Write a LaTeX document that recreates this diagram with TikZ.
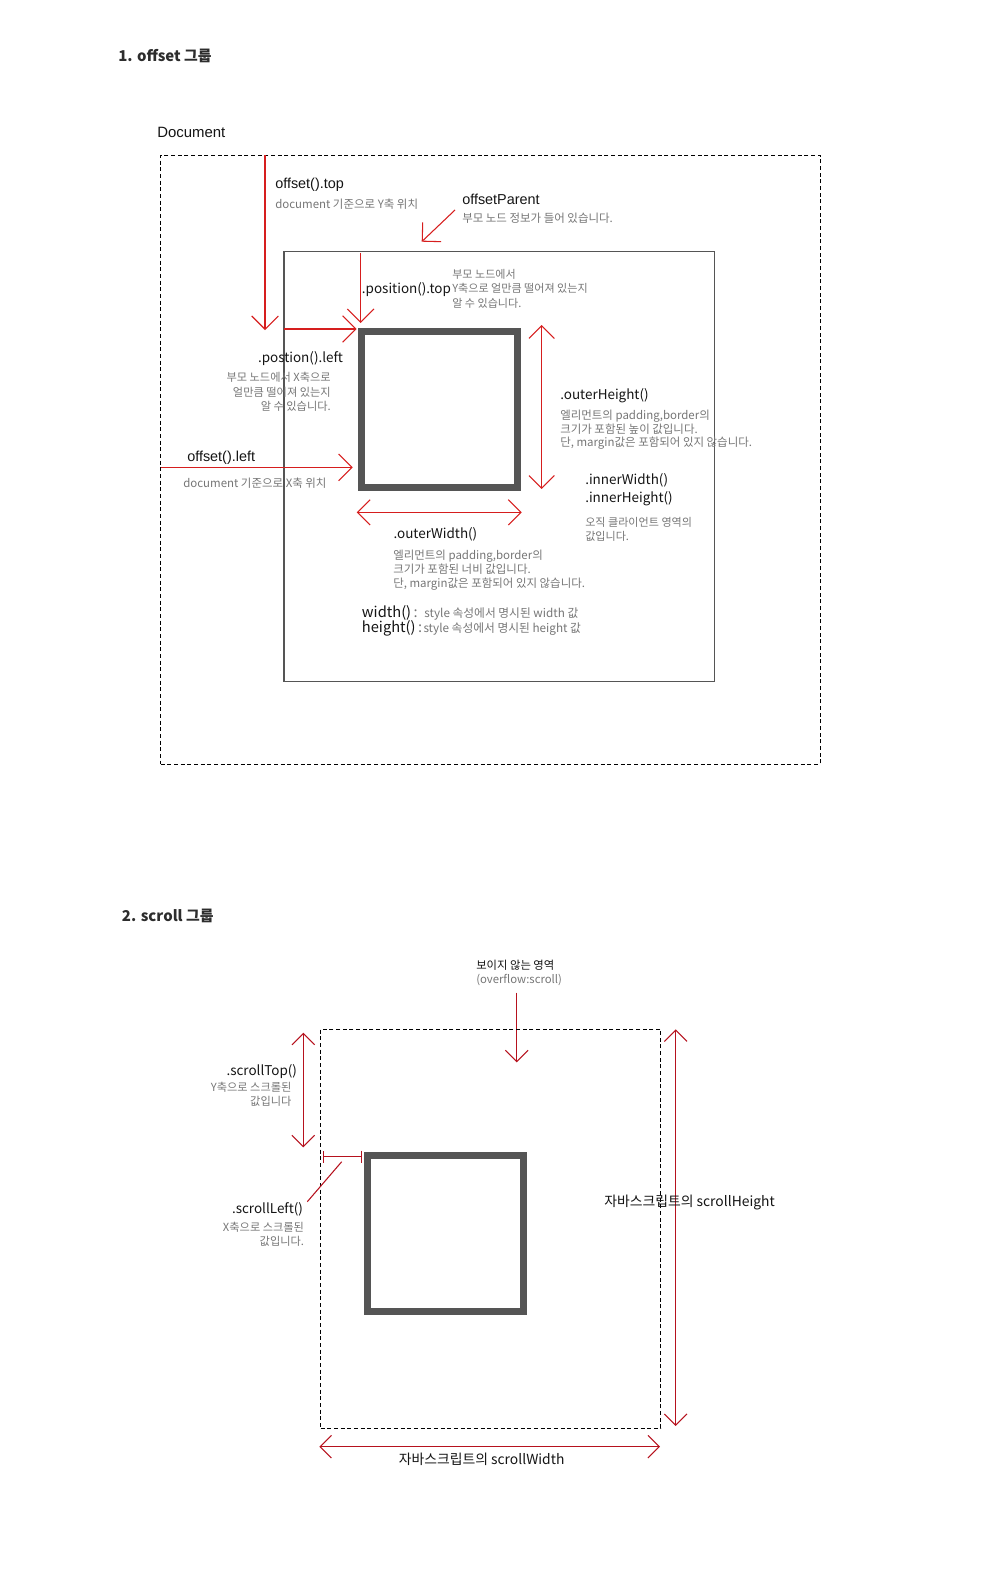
\documentclass[tikz,border=0pt]{standalone}
\usepackage{fontspec}
\setmainfont{Noto Sans CJK KR}
\newfontfamily\arialfont{Liberation Sans}
\usetikzlibrary{arrows.meta,fit}
\definecolor{redA}{RGB}{214,30,30}
\definecolor{redB}{RGB}{182,18,30}
\definecolor{ink}{RGB}{20,20,20}
\definecolor{notegray}{RGB}{118,118,118}
\definecolor{elemgray}{RGB}{85,85,85}
\definecolor{titlegray}{RGB}{45,45,45}
\newcommand\leftlines[1]{\vtop{\halign{##\hfil\cr#1\crcr}}}
\newcommand\rightlines[1]{\vtop{\halign{\hfil##\cr#1\crcr}}}
\tikzset{
  lbl/.style={inner sep=0pt, text=ink, font=\fontsize{10.1}{12}\selectfont},
  albl/.style={inner sep=0pt, text=ink, font=\arialfont\fontsize{10.8}{13}\selectfont},
  note/.style={inner sep=0pt, text=notegray, font=\fontsize{8.6}{10.5}\selectfont},
  ttl/.style={inner sep=0pt, text=titlegray, font=\bfseries\fontsize{11.2}{14}\selectfont},
  docbox/.style={draw=black, line width=0.75pt, dash pattern=on 3pt off 2pt, inner sep=0pt},
  parentbox/.style={draw=elemgray, line width=0.9pt, inner sep=0pt},
  elembox/.style={draw=elemgray, line width=5.25pt, inner sep=0pt},
  ra/.style={draw=redA, line width=0.8pt, -{Straight Barb[length=10pt,width=20pt]}},
  rab/.style={draw=redA, line width=0.8pt, {Straight Barb[length=9.5pt,width=19pt]}-{Straight Barb[length=9.5pt,width=19pt]}},
  rb/.style={draw=redB, line width=0.8pt, -{Straight Barb[length=8.5pt,width=17pt]}},
  rbb/.style={draw=redB, line width=0.8pt, {Straight Barb[length=8.5pt,width=17pt]}-{Straight Barb[length=8.5pt,width=17pt]}},
  rline/.style={draw=redB, line width=0.8pt},
}
\begin{document}
\begin{tikzpicture}[x=0.75pt,y=-0.75pt]
\useasboundingbox (0,0) rectangle (1000,1592);
% ---------- section 1 ----------
\node[ttl, anchor=base west] (t1) at (118,61) {1. offset 그룹};
\node[albl, anchor=base west, font=\arialfont\fontsize{11.2}{13}\selectfont] (doclbl) at (157,137) {Document};
\coordinate (docA) at (160.7,155);
\coordinate (docB) at (820,764);
\node[docbox, fit=(docA)(docB)] (doc) {};
\coordinate (parA) at (284,251.7);
\coordinate (parB) at (714.3,681.3);
\node[parentbox, fit=(parA)(parB)] (parent) {};
\coordinate (elA) at (361.5,331.5);
\coordinate (elB) at (517.5,487.5);
\node[elembox, fit=(elA)(elB)] (elem) {};

% offset().top
\coordinate (otS) at (265,155);
\coordinate (otE) at (265,330);
\draw[ra] (otS) -- (otE);
\node[albl, anchor=base west] (otlbl) at (275,188) {offset().top};
\node[note, anchor=base west] (otnote) at (275,208) {document 기준으로 Y축 위치};

% offsetParent
\coordinate (opS) at (455,210);
\coordinate (opE) at (421.7,241.7);
\draw[ra] (opS) -- (opE);
\node[albl, anchor=base west] (oplbl) at (462,204) {offsetParent};
\node[note, anchor=base west] (opnote) at (462,222) {부모 노드 정보가 들어 있습니다.};

% position().top
\coordinate (ptS) at (360.7,252.5);
\coordinate (ptE) at (360.7,323);
\draw[ra] (ptS) -- (ptE);
\node[lbl, anchor=base west] (ptlbl) at (361.7,293) {.position().top};
\node[note, anchor=base west, font=\fontsize{8.3}{11.2}\selectfont] (ptnote) at (452,278) {\leftlines{부모 노드에서\cr Y축으로 얼만큼 떨어져 있는지\cr 알 수 있습니다.}};

% position().left
\coordinate (plS) at (284,329);
\coordinate (plE) at (356.7,329);
\draw[ra] (plS) -- (plE);
\node[lbl, anchor=base east] (pllbl) at (343.3,362) {.postion().left};
\node[note, anchor=base east, font=\fontsize{8.4}{10.9}\selectfont] (plnote) at (331,381.7) {\rightlines{부모 노드에서 X축으로\cr 얼만큼 떨어져 있는지\cr 알 수 있습니다.}};

% offset().left
\coordinate (olS) at (160.7,467.3);
\coordinate (olE) at (352.7,467.3);
\draw[ra] (olS) -- (olE);
\node[albl, anchor=base west] (ollbl) at (187,461) {offset().left};
\node[note, anchor=base west] (olnote) at (183,487) {document 기준으로 X축 위치};

% outerHeight
\coordinate (ohS) at (541.7,325);
\coordinate (ohE) at (541.7,489);
\draw[rab] (ohS) -- (ohE);
\node[lbl, anchor=base west] (ohlbl) at (560,399) {.outerHeight()};
\node[note, anchor=base west, font=\fontsize{8.6}{10.3}\selectfont] (ohnote) at (560,419.3) {\leftlines{엘리먼트의 padding,border의\cr 크기가 포함된 높이 값입니다.\cr 단, margin값은 포함되어 있지 않습니다.}};

% inner
\node[lbl, anchor=base west, font=\fontsize{10.1}{13.5}\selectfont] (inlbl) at (585,484) {\leftlines{.innerWidth()\cr .innerHeight()}};
\node[note, anchor=base west, font=\fontsize{8.3}{10.5}\selectfont] (innote) at (585,526.7) {\leftlines{오직 클라이언트 영역의\cr 값입니다.}};

% outerWidth
\coordinate (owS) at (356.7,512.3);
\coordinate (owE) at (521.7,512.3);
\draw[rab] (owS) -- (owE);
\node[lbl, anchor=base west] (owlbl) at (393.3,538.3) {.outerWidth()};
\node[note, anchor=base west, font=\fontsize{8.6}{10.5}\selectfont] (ownote) at (393,559.3) {\leftlines{엘리먼트의 padding,border의\cr 크기가 포함된 너비 값입니다.\cr 단, margin값은 포함되어 있지 않습니다.}};

% width / height
\node[lbl, anchor=base west, font=\fontsize{11}{13}\selectfont] (wlbl) at (361.7,617.3) {width()\,{\color{notegray}:}\hspace{5pt}{\color{notegray}\fontsize{8.8}{10}\selectfont style 속성에서 명시된 width 값}};
\node[lbl, anchor=base west, font=\fontsize{11}{13}\selectfont] (hlbl) at (361.7,632.7) {height()\,{\color{notegray}:}\hspace{1pt}{\color{notegray}\fontsize{8.8}{10}\selectfont style 속성에서 명시된 height 값}};

% ---------- section 2 ----------
\node[ttl, anchor=base west] (t2) at (121.7,921.7) {2. scroll 그룹};
\node[inner sep=0pt, anchor=base west, font=\fontsize{8.5}{11}\selectfont, text=ink] (hidlbl) at (476,969.3) {\leftlines{보이지 않는 영역\cr {\color{notegray}(overflow:scroll)}}};
\coordinate (hidS) at (516.7,992.7);
\coordinate (hidE) at (516.7,1062.3);
\draw[rb] (hidS) -- (hidE);

\coordinate (scA) at (320.7,1029);
\coordinate (scB) at (660.7,1428.3);
\node[docbox, fit=(scA)(scB)] (scrollbox) {};
\coordinate (e2A) at (367.5,1155.5);
\coordinate (e2B) at (523.5,1311.5);
\node[elembox, fit=(e2A)(e2B)] (elem2) {};

% scrollTop
\coordinate (stS) at (303.3,1032.7);
\coordinate (stE) at (303.3,1147.3);
\draw[rbb] (stS) -- (stE);
\node[lbl, anchor=base east] (stlbl) at (297.3,1075) {.scrollTop()};
\node[note, anchor=base east, font=\fontsize{8.4}{10}\selectfont] (stnote) at (291.7,1091.7) {\rightlines{Y축으로 스크롤된\cr 값입니다}};

% scrollLeft
\coordinate (slS) at (323.3,1156.7);
\coordinate (slE) at (361.7,1156.7);
\draw[draw=redB, line width=0.8pt, {Bar[width=9pt]}-{Bar[width=9pt]}] (slS) -- (slE);
\coordinate (slD1) at (341.7,1161.7);
\coordinate (slD2) at (307.3,1201.7);
\draw[rline] (slD1) -- (slD2);
\node[lbl, anchor=base east] (sllbl) at (303.3,1213.3) {.scrollLeft()};
\node[note, anchor=base east, font=\fontsize{8.4}{10}\selectfont] (slnote) at (304.3,1231.7) {\rightlines{X축으로 스크롤된\cr 값입니다.}};

% scrollHeight
\coordinate (shS) at (675.7,1029.3);
\coordinate (shE) at (675.7,1426);
\draw[rbb] (shS) -- (shE);
\node[lbl, anchor=base west, font=\fontsize{10.4}{12}\selectfont] (shlbl) at (604,1206) {자바스크립트의 scrollHeight};

% scrollWidth
\coordinate (swS) at (319.3,1446.7);
\coordinate (swE) at (660,1446.7);
\draw[rbb] (swS) -- (swE);
\node[lbl, anchor=base west, font=\fontsize{10.4}{12}\selectfont] (swlbl) at (398.5,1464) {자바스크립트의 scrollWidth};
\end{tikzpicture}
\end{document}
